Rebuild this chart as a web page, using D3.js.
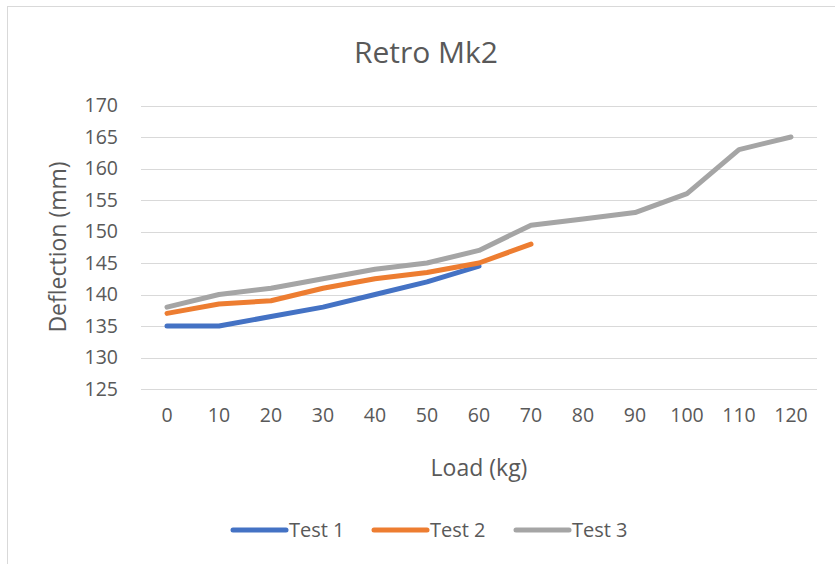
<!DOCTYPE html>
<html><head><meta charset="utf-8">
<script src="https://cdn.jsdelivr.net/npm/d3@7"></script>
<style>body{margin:0;background:#fff}svg{display:block}text{font-family:"Open Sans",sans-serif;fill:#595959}</style>
</head><body><svg id="c" width="835" height="564"></svg>
<script>
const loads = [0,10,20,30,40,50,60,70,80,90,100,110,120];
const test1 = [135,135,136.5,138,140,142,144.5];
const test2 = [137,138.5,139,141,142.5,143.5,145,148];
const test3 = [138,140,141,142.5,144,145,147,151,152,153,156,163,165];
const yTicks = [125,130,135,140,145,150,155,160,165,170];
const seriesNames = ["Test 1","Test 2","Test 3"];
const colors = ["#4472C4","#ED7D31","#A5A5A5"];

const svg = d3.select("#c");
svg.append("rect").attr("x",7.5).attr("y",6.5).attr("width",840).attr("height",600).attr("fill","#fff").attr("stroke","#d9d9d9");

const m = {l:141, r:817, t:105.5, b:389};
const x = d3.scaleBand().domain(loads).range([m.l,m.r]);
const y = d3.scaleLinear().domain([125,170]).range([m.b,m.t]);

svg.append("g").selectAll("line").data(yTicks).join("line")
  .attr("x1",m.l).attr("x2",m.r).attr("y1",d=>Math.round(y(d))+0.5).attr("y2",d=>Math.round(y(d))+0.5)
  .attr("stroke","#d9d9d9").attr("stroke-width",1);

const yAxis = svg.append("g").attr("transform",`translate(${m.l},0)`)
  .call(d3.axisLeft(y).tickValues(yTicks).tickSize(0).tickPadding(23));
yAxis.select(".domain").remove();
yAxis.selectAll("text").style("font-size","19.5px").attr("fill","#595959").style("font-family","'Open Sans',sans-serif");

const xAxis = svg.append("g").attr("transform",`translate(0,${m.b})`)
  .call(d3.axisBottom(x).tickSize(0).tickPadding(19));
xAxis.select(".domain").remove();
xAxis.selectAll("text").style("font-size","19.5px").attr("fill","#595959").style("font-family","'Open Sans',sans-serif");

svg.append("text").attr("x",(m.l+m.r)/2).attr("y",476).attr("text-anchor","middle").style("font-size","23px").text("Load (kg)");
svg.append("text").attr("transform","translate(66,247) rotate(-90)").attr("text-anchor","middle").style("font-size","23px").text("Deflection (mm)");
svg.append("text").attr("x",426).attr("y",63).attr("text-anchor","middle").style("font-size","30px").text("Retro Mk2");

const line = d3.line().x((d,i)=>x(loads[i])+x.bandwidth()/2).y(d=>y(d));
[test1,test2,test3].forEach((s,i)=>{
  svg.append("path").datum(s).attr("d",line).attr("fill","none").attr("stroke",colors[i])
    .attr("stroke-width",5).attr("stroke-linecap","round").attr("stroke-linejoin","round");
});

const legX = [233,374,516];
seriesNames.forEach((n,i)=>{
  svg.append("line").attr("x1",legX[i]).attr("x2",legX[i]+53).attr("y1",530).attr("y2",530)
    .attr("stroke",colors[i]).attr("stroke-width",5).attr("stroke-linecap","round");
  svg.append("text").attr("x",legX[i]+56).attr("y",537).style("font-size","20px").text(n);
});
</script></body></html>
